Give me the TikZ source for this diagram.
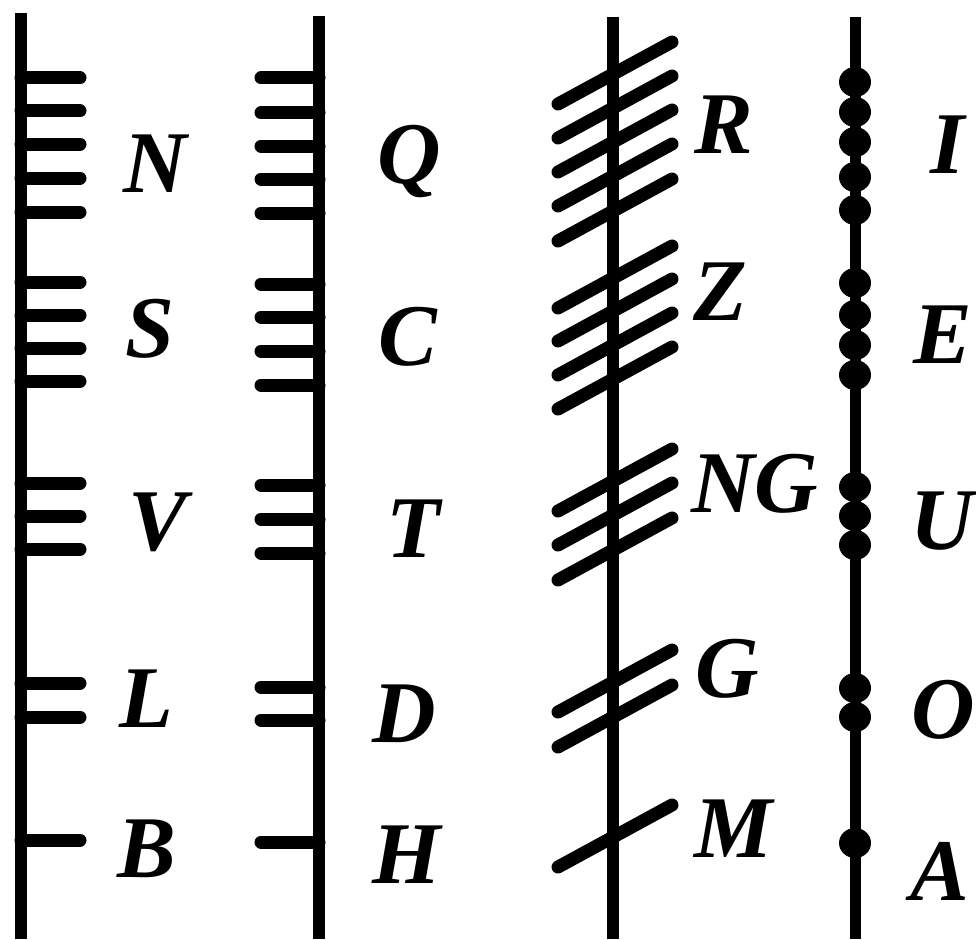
\documentclass[tikz,border=0pt]{standalone}
\usepackage{fontspec}
\setmainfont{Liberation Serif}
\begin{document}
\begin{tikzpicture}[
  x=1pt, y=-1pt,
  stem/.style={line width=12pt},
  notch/.style={line width=13pt, line cap=round},
  knot/.style={fill=black},
  lbl/.style={font=\fontsize{88}{90}\selectfont\bfseries\itshape, inner sep=0pt, anchor=base}
]
\useasboundingbox (0,0) rectangle (976,939);

% stems
\coordinate (top1) at (21,13);   \coordinate (bot1) at (21,939);
\coordinate (top2) at (319,16);  \coordinate (bot2) at (319,939);
\coordinate (top3) at (613,17);  \coordinate (bot3) at (613,939);
\coordinate (top4) at (855,17);  \coordinate (bot4) at (855,939);
\draw[stem] (top1) -- (bot1);
\draw[stem] (top2) -- (bot2);
\draw[stem] (top3) -- (bot3);
\draw[stem, line width=11pt] (top4) -- (bot4);

% strokes right of the stem
\foreach \y in {78,111,144,178,212, 282,315,348,381, 483,516,549, 683,717, 840}
  \draw[notch] (21,\y) -- (80,\y);

% strokes left of the stem
\foreach \y in {78,113,146,179,213, 284,317,351,385, 485,519,553, 687,720, 842}
  \draw[notch] (319,\y) -- (261,\y);

% strokes across the stem
\foreach \y in {73,107,141,175,210, 277,310,344,378, 480,514,549, 681,716, 836}
  \draw[notch] (558,{\y+31}) -- (672,{\y-31});

% knots on the stem
\foreach \y in {82,112,142,177,210, 283,315,345,375, 487,516,545, 688,717, 843}
  \fill[knot] (855,\y) ellipse [x radius=16pt, y radius=15pt];

% letters
\node[lbl] (lbN) at (155,192) {N};
\node[lbl] (lbS) at (150,357) {S};
\node[lbl] (lbV) at (158,550) {V};
\node[lbl] (lbL) at (146,727) {L};
\node[lbl] (lbB) at (147,877) {B};

\node[lbl] (lbQ) at (409,183) {Q};
\node[lbl] (lbC) at (408,365) {C};
\node[lbl] (lbT) at (413,557) {T};
\node[lbl] (lbD) at (404,742) {D};
\node[lbl] (lbH) at (407,883) {H};

\node[lbl] (lbR) at (724,153) {R};
\node[lbl] (lbZ) at (720,320) {Z};
\node[lbl] (lbNG) at (755,512) {NG};
\node[lbl] (lbG) at (727,697) {G};
\node[lbl] (lbM) at (734,857) {M};

\node[lbl] (lbI) at (948,173) {I};
\node[lbl] (lbE) at (943,363) {E};
\node[lbl] (lbU) at (942,549) {U};
\node[lbl] (lbO) at (943,738) {O};
\node[lbl] (lbA) at (940,900) {A};
\end{tikzpicture}
\end{document}
